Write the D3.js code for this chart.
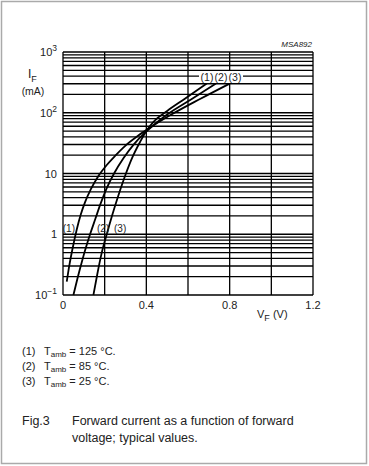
<!DOCTYPE html>
<html>
<head>
<meta charset="utf-8">
<script src="https://cdn.jsdelivr.net/npm/d3@7"></script>
<style>
  body { margin: 0; background: #fff; }
  text { font-family: "Liberation Sans", Arial, sans-serif; fill: #222; }
</style>
</head>
<body>
<script>
// Forward voltage (V) / forward current (mA)
const series = ["(1)", "(2)", "(3)"];
const vf1 = [0.018, 0.03, 0.045, 0.066, 0.085, 0.105, 0.135, 0.17, 0.21, 0.25, 0.30, 0.36, 0.42, 0.52, 0.66, 0.80];
const if1 = [0.166, 0.302, 0.562, 1.2, 2.09, 3.31, 5.62, 9.12, 13.8, 19.5, 28.8, 41.7, 57.5, 93.3, 170, 302];
const vf2 = [0.05, 0.07, 0.09, 0.11, 0.13, 0.155, 0.18, 0.21, 0.245, 0.29, 0.34, 0.39, 0.44, 0.50, 0.62, 0.734];
const if2 = [0.1, 0.191, 0.347, 0.603, 1.0, 1.78, 3.16, 5.75, 10, 17.8, 30.2, 45.7, 64.6, 93.3, 170, 302];
const vf3 = [0.146, 0.165, 0.185, 0.21, 0.235, 0.265, 0.30, 0.335, 0.37, 0.40, 0.44, 0.50, 0.585, 0.69];
const if3 = [0.1, 0.224, 0.479, 1.0, 2.0, 4.27, 9.55, 19.1, 33.1, 50.1, 74.1, 107, 170, 302];

const xTicks = [0, 0.4, 0.8, 1.2];
const xTickLabels = ["0", "0.4", "0.8", "1.2"];
const yTicks = [0.1, 1, 10, 100, 1000];
const yTickBase = ["10", "1", "10", "10", "10"];
const yTickExp = ["\u22121", "", "", "2", "3"];

const legendNo = ["(1)", "(2)", "(3)"];
const legendTemp = ["= 125 \u00b0C.", "= 85 \u00b0C.", "= 25 \u00b0C."];

const width = 369, height = 466;
const margin = {top: 52, right: 56, bottom: 171, left: 63};

const svg = d3.select("body").append("svg")
    .attr("width", width)
    .attr("height", height);

// outer frame
svg.append("rect")
    .attr("x", 1.5).attr("y", 1.5)
    .attr("width", 365).attr("height", 462)
    .attr("fill", "none").attr("stroke", "#aaa").attr("stroke-width", 1.5);

const xscale = d3.scaleLinear()
    .domain([0, 1.2])
    .range([margin.left, width - margin.right]);
const yscale = d3.scaleLog()
    .domain([0.1, 1000])
    .range([height - margin.bottom, margin.top]);

const g = svg.append("g");

// horizontal grid: every log minor tick
g.selectAll("line.h")
    .data(yscale.ticks())
    .enter().append("line")
    .attr("x1", xscale(0)).attr("x2", xscale(1.2))
    .attr("y1", d => yscale(d)).attr("y2", d => yscale(d))
    .attr("stroke", "#000").attr("stroke-width", 1.3);

// vertical grid every 0.2 V
g.selectAll("line.v")
    .data(xscale.ticks(6))
    .enter().append("line")
    .attr("x1", d => xscale(d)).attr("x2", d => xscale(d))
    .attr("y1", yscale(0.1)).attr("y2", yscale(1000))
    .attr("stroke", "#000").attr("stroke-width", 1.3);

// curves
const line = d3.line()
    .x(d => xscale(d[0]))
    .y(d => yscale(d[1]))
    .curve(d3.curveMonotoneX);

[[vf1, if1], [vf2, if2], [vf3, if3]].forEach(([vs, is]) => {
    g.append("path")
        .datum(vs.map((v, i) => [v, is[i]]))
        .attr("d", line)
        .attr("fill", "none")
        .attr("stroke", "#000")
        .attr("stroke-width", 1.8);
});

// curve labels at the top (with white background over the grid line)
svg.append("rect")
    .attr("x", 199).attr("y", 71).attr("width", 44).attr("height", 12)
    .attr("fill", "#fff");
const topLabelX = [207, 221, 235];
svg.selectAll("text.tl")
    .data(series)
    .enter().append("text")
    .attr("x", (d, i) => topLabelX[i])
    .attr("y", 81)
    .attr("text-anchor", "middle")
    .attr("font-size", 10.5)
    .text(d => d);

// curve labels at the bottom
const botLabelX = [75, 97, 114];
const botAnchor = ["end", "start", "start"];
svg.selectAll("text.bl")
    .data(series)
    .enter().append("text")
    .attr("x", (d, i) => botLabelX[i])
    .attr("y", 232)
    .attr("text-anchor", (d, i) => botAnchor[i])
    .attr("font-size", 10)
    .text(d => d);

// x tick labels
svg.selectAll("text.xt")
    .data(xTicks)
    .enter().append("text")
    .attr("x", d => xscale(d))
    .attr("y", 309)
    .attr("text-anchor", "middle")
    .attr("font-size", 11)
    .text((d, i) => xTickLabels[i]);

// y tick labels with superscripts
yTicks.forEach((v, i) => {
    const t = svg.append("text")
        .attr("x", 57)
        .attr("y", yscale(v) + 4)
        .attr("text-anchor", "end")
        .attr("font-size", 11);
    t.append("tspan").text(yTickBase[i]);
    if (yTickExp[i]) {
        t.append("tspan").attr("dy", -5).attr("font-size", 8.5).text(yTickExp[i]);
    }
});

// axis titles
const yt = svg.append("text").attr("x", 28).attr("y", 78).attr("font-size", 12);
yt.append("tspan").text("I");
yt.append("tspan").attr("dy", 4).attr("font-size", 9).text("F");
svg.append("text").attr("x", 33).attr("y", 95)
    .attr("text-anchor", "middle").attr("font-size", 10.5).text("(mA)");

const xt = svg.append("text").attr("x", 257).attr("y", 318).attr("font-size", 11);
xt.append("tspan").text("V");
xt.append("tspan").attr("dy", 3).attr("font-size", 9).text("F");
xt.append("tspan").attr("dy", -3).text(" (V)");

// figure id
svg.append("text")
    .attr("x", 312).attr("y", 47)
    .attr("text-anchor", "end")
    .attr("font-size", 8)
    .attr("font-style", "italic")
    .text("MSA892");

// legend
legendNo.forEach((n, i) => {
    const y = 355 + i * 15;
    svg.append("text").attr("x", 22).attr("y", y).attr("font-size", 11).text(n);
    const t = svg.append("text").attr("x", 44).attr("y", y).attr("font-size", 11);
    t.append("tspan").text("T");
    t.append("tspan").attr("dy", 2).attr("font-size", 8).text("amb");
    t.append("tspan").attr("dy", -2).text(" " + legendTemp[i]);
});

// caption
svg.append("text").attr("x", 22).attr("y", 425).attr("font-size", 12.5).text("Fig.3");
svg.append("text").attr("x", 72).attr("y", 425).attr("font-size", 12.5)
    .text("Forward current as a function of forward");
svg.append("text").attr("x", 72).attr("y", 442).attr("font-size", 12.5)
    .text("voltage; typical values.");
</script>
</body>
</html>
